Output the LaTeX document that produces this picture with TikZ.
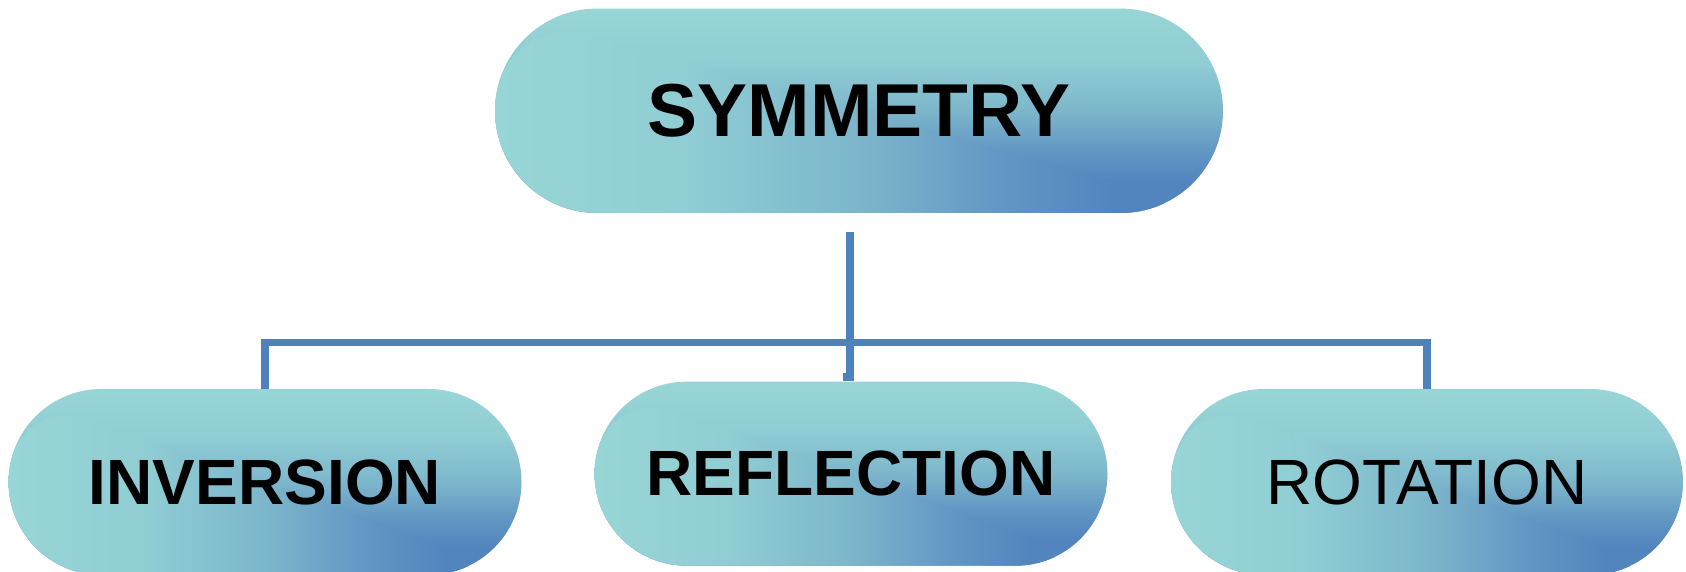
\documentclass[tikz,border=0pt]{standalone}
\usepackage{fontspec}
\setmainfont{Liberation Sans}

% capsule fill colours, from light teal to steel blue
\definecolor{tealA}{RGB}{152,213,214}
\definecolor{tealB}{RGB}{145,206,212}
\definecolor{tealC}{RGB}{125,182,203}
\definecolor{blueD}{RGB}{98,150,196}
\definecolor{blueE}{RGB}{82,133,190}
\definecolor{lineblue}{RGB}{79,129,189}

% the same ramp running left->right and top->bottom
\pgfdeclarehorizontalshading{capsuleH}{100bp}{color(0bp)=(tealA); color(25bp)=(tealA); color(37.5bp)=(tealB); color(50bp)=(tealC); color(60bp)=(blueD); color(67.5bp)=(blueE); color(100bp)=(blueE)}
\pgfdeclareverticalshading{capsuleV}{100bp}{color(0bp)=(blueE); color(32.5bp)=(blueE); color(40bp)=(blueD); color(50bp)=(tealC); color(62.5bp)=(tealB); color(75bp)=(tealA); color(100bp)=(tealA)}

\tikzset{
  capsule/.style={rectangle, inner sep=0pt, text=black,
    path picture={
      \shade[shading=capsuleV] (path picture bounding box.south west) rectangle (path picture bounding box.north east);
      \shade[shading=capsuleH] (path picture bounding box.north west) -- (path picture bounding box.south west) -- (path picture bounding box.south east) -- cycle;
    }},
  bigcap/.style={capsule, minimum width=728pt, minimum height=204.4pt, rounded corners=102.2pt,
    font=\fontsize{75}{80}\selectfont\bfseries},
  smallcap/.style={capsule, minimum width=513pt, minimum height=186pt, rounded corners=93pt,
    font=\fontsize{64}{70}\selectfont},
  conn/.style={draw=lineblue, line width=7.5pt}
}

\begin{document}
\begin{tikzpicture}[x=1pt, y=1pt]
  \clip (0,0) rectangle (1686,572);

  \node[bigcap] (sym) at (859,461.2) {SYMMETRY};
  \node[smallcap, font=\fontsize{64}{70}\selectfont\bfseries] (inv) at (265,90) {INVERSION};
  \node[smallcap, font=\fontsize{64}{70}\selectfont\bfseries, minimum height=184pt, rounded corners=92pt] (ref) at (851,98.3) {REFLECTION};
  \node[smallcap, minimum width=512pt] (rot) at (1427,90) {ROTATION};

  % tree connectors
  \coordinate (trunktop) at (850,340);
  \coordinate (bar) at (850,229.7);
  \draw[conn] (trunktop) -- (trunktop |- ref.north);
  \draw[conn] (inv.north) -- (inv.north |- bar) -- (rot.north |- bar) -- (rot.north);
  \draw[conn] ([xshift=-4.5pt,yshift=8pt]ref.north) -- ([xshift=-4.5pt]ref.north);
\end{tikzpicture}
\end{document}
